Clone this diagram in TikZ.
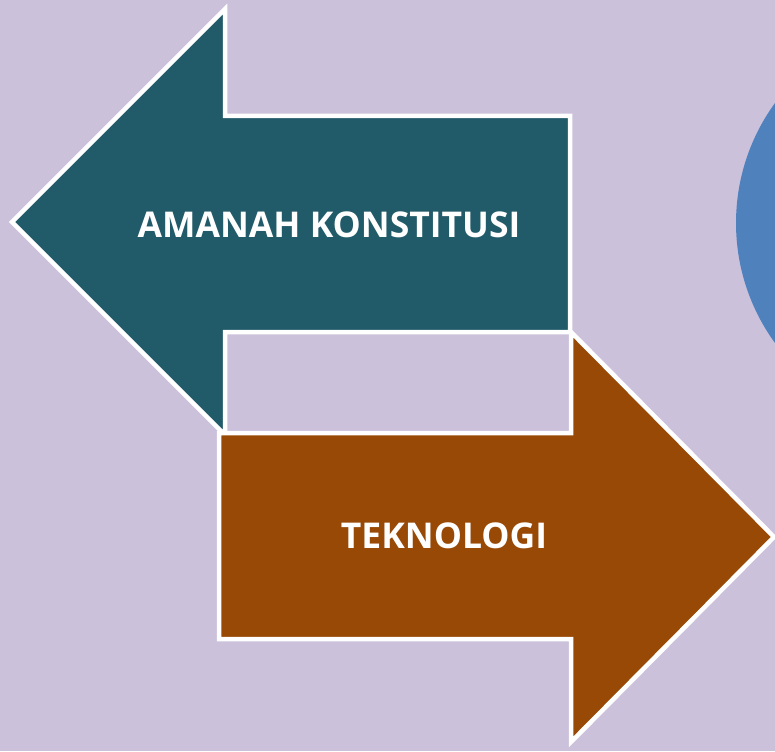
\documentclass[tikz,border=0pt]{standalone}
\usepackage{fontspec}
\setmainfont{Open Sans}
\definecolor{bgl}{HTML}{CBC1DB}
\definecolor{tealA}{HTML}{215A69}
\definecolor{brownA}{HTML}{984906}
\definecolor{blueA}{HTML}{4F81BD}
\begin{document}
\begin{tikzpicture}[x=1pt,y=-1pt,
  arrowshape/.style={draw=white,line width=4.5pt,line join=miter},
  lbl/.style={text=white,font=\bfseries\fontsize{35.5}{40}\selectfont,inner sep=0pt}]
\useasboundingbox (0,0) rectangle (775,751);
\fill[bgl] (0,0) rectangle (775,751);
\fill[blueA] (940,223) circle (204);
% left arrow
\draw[arrowshape,fill=tealA] (12,222) -- (225,9) -- (225,116) -- (570,116) -- (570,332) -- (225,332) -- (225,435) -- cycle;
% right arrow
\draw[arrowshape,fill=brownA] (774,537) -- (571,332) -- (571,433) -- (219,433) -- (219,639) -- (571,639) -- (571,742) -- cycle;
\node[lbl] (amanah) at (329,225) {AMANAH KONSTITUSI};
\node[lbl] (tekno) at (444,536) {TEKNOLOGI};
\end{tikzpicture}
\end{document}
